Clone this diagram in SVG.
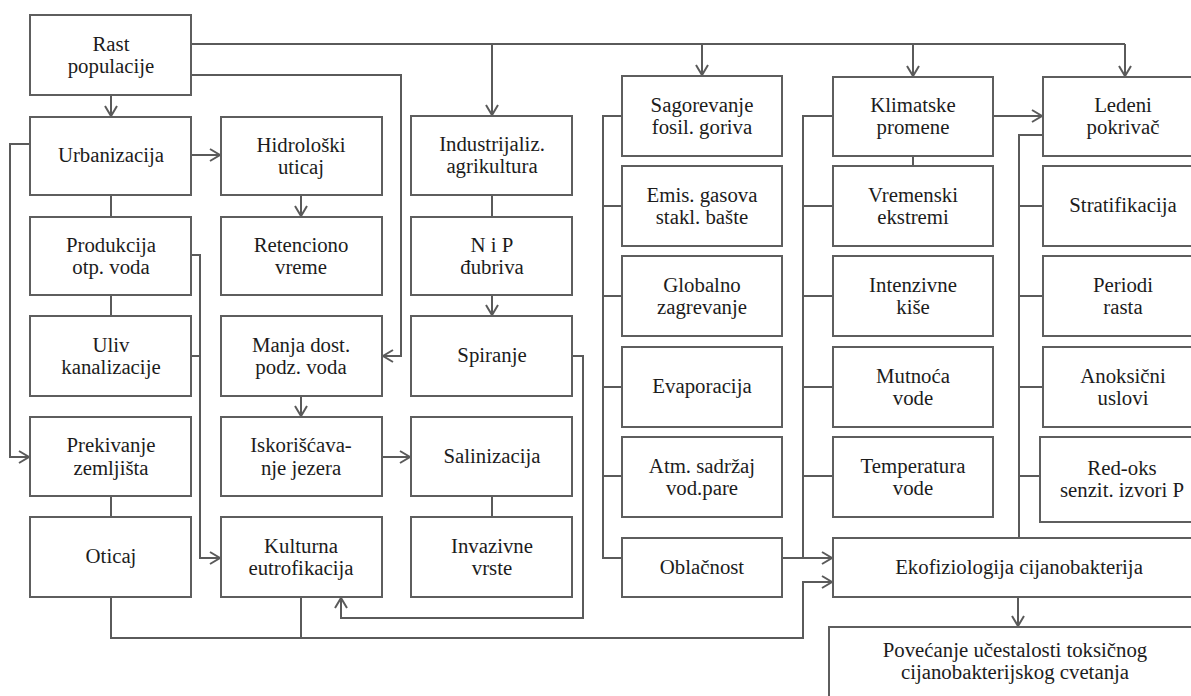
<svg xmlns="http://www.w3.org/2000/svg" width="1191" height="696" viewBox="0 0 1191 696" font-family="Liberation Serif, Times New Roman, serif">
<style>
.n rect{fill:#fff;stroke:#5e5e5e;stroke-width:2}
.n text{font-family:'Liberation Serif',serif;font-size:20.8px;fill:#1c1c1c;text-anchor:middle}
#connectors path{fill:none;stroke:#5a5a5a;stroke-width:2}
</style>
<defs>
<marker id="ah" markerUnits="userSpaceOnUse" markerWidth="14" markerHeight="16" viewBox="-12 -8 14 16" refX="0" refY="0" orient="auto">
<path d="M-10,-6 L0,0 L-10,6" fill="none" stroke="#5a5a5a" stroke-width="2"/>
</marker>
</defs>
<rect width="1191" height="696" fill="#fff"/>
<g id="connectors">
<path d="M191,44 H1125"/>
<path d="M492,44 V115" marker-end="url(#ah)"/>
<path d="M702,44 V75" marker-end="url(#ah)"/>
<path d="M913,44 V76" marker-end="url(#ah)"/>
<path d="M1125,44 V76" marker-end="url(#ah)"/>
<path d="M191,75 H401 V356 H383" marker-end="url(#ah)"/>
<path d="M111,95 V116" marker-end="url(#ah)"/>
<path d="M191,155 H220" marker-end="url(#ah)"/>
<path d="M30,144 H10 V457 H29" marker-end="url(#ah)"/>
<path d="M111,195 V217"/>
<path d="M111,295 V316"/>
<path d="M111,496 V517"/>
<path d="M191,255 H200 V558 H220" marker-end="url(#ah)"/>
<path d="M191,356 H200"/>
<path d="M301,195 V216" marker-end="url(#ah)"/>
<path d="M301,396 V416" marker-end="url(#ah)"/>
<path d="M382,457 H410" marker-end="url(#ah)"/>
<path d="M492,195 V217"/>
<path d="M492,295 V315" marker-end="url(#ah)"/>
<path d="M492,496 V517"/>
<path d="M572,356 H583 V618 H341 V598" marker-end="url(#ah)"/>
<path d="M111,597 V638 H803 V582 H832" marker-end="url(#ah)"/>
<path d="M301,597 V638"/>
<path d="M622,116 H603 V558 H622"/>
<path d="M603,206 H622 M603,296 H622 M603,387 H622 M603,476 H622"/>
<path d="M782,558 H832" marker-end="url(#ah)"/>
<path d="M833,116 H803 V558"/>
<path d="M803,206 H833 M803,296 H833 M803,387 H833 M803,476 H833"/>
<path d="M913,156 V166"/>
<path d="M993,116 H1042" marker-end="url(#ah)"/>
<path d="M1043,135 H1019 V538"/>
<path d="M1019,206 H1043 M1019,296 H1043 M1019,387 H1043 M1019,476 H1040"/>
<path d="M1018,597 V626" marker-end="url(#ah)"/>
</g>
<g id="rast" class="n"><rect x="30" y="15" width="161" height="80"/><text x="111" y="51">Rast</text><text x="111" y="73">populacije</text></g>
<g id="urbanizacija" class="n"><rect x="30" y="117" width="161" height="78"/><text x="111" y="162">Urbanizacija</text></g>
<g id="produkcija" class="n"><rect x="30" y="217" width="161" height="78"/><text x="111" y="252">Produkcija</text><text x="111" y="274">otp. voda</text></g>
<g id="uliv" class="n"><rect x="30" y="316" width="161" height="80"/><text x="111" y="352">Uliv</text><text x="111" y="374">kanalizacije</text></g>
<g id="prekivanje" class="n"><rect x="30" y="417" width="161" height="79"/><text x="111" y="452">Prekivanje</text><text x="111" y="475">zemljišta</text></g>
<g id="oticaj" class="n"><rect x="30" y="517" width="161" height="80"/><text x="111" y="563">Oticaj</text></g>
<g id="hidroloski" class="n"><rect x="221" y="117" width="161" height="78"/><text x="301" y="152">Hidrološki</text><text x="301" y="174">uticaj</text></g>
<g id="retenciono" class="n"><rect x="221" y="217" width="161" height="78"/><text x="301" y="252">Retenciono</text><text x="301" y="274">vreme</text></g>
<g id="manja" class="n"><rect x="221" y="316" width="161" height="80"/><text x="301" y="352">Manja dost.</text><text x="301" y="374">podz. voda</text></g>
<g id="iskoriscavanje" class="n"><rect x="221" y="417" width="161" height="79"/><text x="301" y="452">Iskorišćava-</text><text x="301" y="475">nje jezera</text></g>
<g id="kulturna" class="n"><rect x="221" y="517" width="161" height="80"/><text x="301" y="553">Kulturna</text><text x="301" y="575">eutrofikacija</text></g>
<g id="industrijaliz" class="n"><rect x="411" y="116" width="161" height="79"/><text x="492" y="151">Industrijaliz.</text><text x="492" y="173">agrikultura</text></g>
<g id="nip" class="n"><rect x="411" y="217" width="161" height="78"/><text x="492" y="252">N i P</text><text x="492" y="274">đubriva</text></g>
<g id="spiranje" class="n"><rect x="411" y="316" width="161" height="80"/><text x="492" y="362">Spiranje</text></g>
<g id="salinizacija" class="n"><rect x="411" y="417" width="161" height="79"/><text x="492" y="463">Salinizacija</text></g>
<g id="invazivne" class="n"><rect x="411" y="517" width="161" height="80"/><text x="492" y="553">Invazivne</text><text x="492" y="575">vrste</text></g>
<g id="sagorevanje" class="n"><rect x="622" y="76" width="160" height="80"/><text x="702" y="112">Sagorevanje</text><text x="702" y="134">fosil. goriva</text></g>
<g id="emis" class="n"><rect x="622" y="166" width="160" height="80"/><text x="702" y="202">Emis. gasova</text><text x="702" y="224">stakl. bašte</text></g>
<g id="globalno" class="n"><rect x="622" y="256" width="160" height="80"/><text x="702" y="292">Globalno</text><text x="702" y="314">zagrevanje</text></g>
<g id="evaporacija" class="n"><rect x="622" y="347" width="160" height="80"/><text x="702" y="393">Evaporacija</text></g>
<g id="atm" class="n"><rect x="622" y="437" width="160" height="80"/><text x="702" y="473">Atm. sadržaj</text><text x="702" y="495">vod.pare</text></g>
<g id="oblacnost" class="n"><rect x="622" y="538" width="160" height="59"/><text x="702" y="574">Oblačnost</text></g>
<g id="klimatske" class="n"><rect x="833" y="77" width="160" height="79"/><text x="913" y="112">Klimatske</text><text x="913" y="134">promene</text></g>
<g id="vremenski" class="n"><rect x="833" y="166" width="160" height="80"/><text x="913" y="202">Vremenski</text><text x="913" y="224">ekstremi</text></g>
<g id="intenzivne" class="n"><rect x="833" y="256" width="160" height="80"/><text x="913" y="292">Intenzivne</text><text x="913" y="314">kiše</text></g>
<g id="mutnoca" class="n"><rect x="833" y="347" width="160" height="80"/><text x="913" y="383">Mutnoća</text><text x="913" y="405">vode</text></g>
<g id="temperatura" class="n"><rect x="833" y="437" width="160" height="80"/><text x="913" y="473">Temperatura</text><text x="913" y="495">vode</text></g>
<g id="ledeni" class="n"><rect x="1043" y="77" width="160" height="79"/><text x="1123" y="112">Ledeni</text><text x="1123" y="134">pokrivač</text></g>
<g id="stratifikacija" class="n"><rect x="1043" y="166" width="160" height="80"/><text x="1123" y="212">Stratifikacija</text></g>
<g id="periodi" class="n"><rect x="1043" y="256" width="160" height="80"/><text x="1123" y="292">Periodi</text><text x="1123" y="314">rasta</text></g>
<g id="anoksicni" class="n"><rect x="1043" y="347" width="160" height="80"/><text x="1123" y="383">Anoksični</text><text x="1123" y="405">uslovi</text></g>
<g id="redoks" class="n"><rect x="1040" y="437" width="165" height="85"/><text x="1122" y="475">Red-oks</text><text x="1122" y="497">senzit. izvori P</text></g>
<g id="ekofiziologija" class="n"><rect x="833" y="538" width="372" height="59"/><text x="1019" y="574">Ekofiziologija cijanobakterija</text></g>
<g id="povecanje" class="n"><rect x="829" y="627" width="372" height="75"/><text x="1015" y="657">Povećanje učestalosti toksičnog</text><text x="1015" y="679">cijanobakterijskog cvetanja</text></g>
</svg>
